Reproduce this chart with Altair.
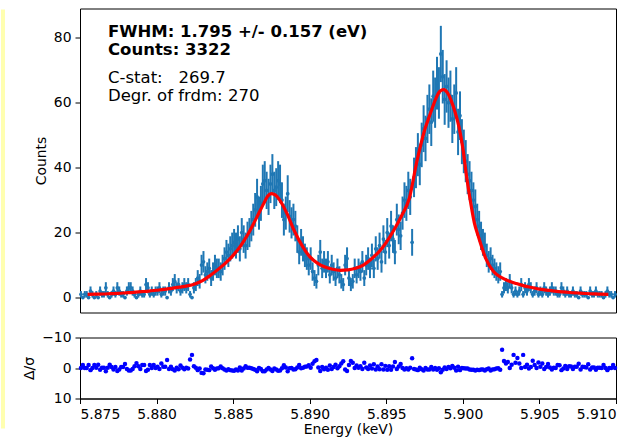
import altair as alt
import numpy as np
import pandas as pd

# ---------------- data ----------------
BIN_START_KEV = 5.875
BIN_WIDTH_KEV = 0.000125  # 0.125 eV bins

# counts per bin (8 bins per eV)
COUNTS = [
    1, 0, 1, 1, 0, 2, 1, 0,
    1, 0, 2, 1, 1, 3, 1, 0,
    1, 2, 1, 3, 2, 1, 1, 0,
    2, 3, 3, 2, 1, 0, 1, 2,
    1, 1, 4, 3, 1, 2, 1, 2,
    2, 3, 1, 2, 2, 0, 3, 2,
    4, 5, 3, 4, 2, 3, 4, 3,
    4, 1, 0, 3, 4, 6, 5, 10,
    11, 7, 8, 9, 6, 8, 10, 9,
    9, 8, 10, 12, 14, 13, 15, 16,
    17, 16, 18, 15, 20, 18, 16, 19,
    20, 22, 24, 27, 31, 26, 29, 35,
    36, 33, 31, 35, 38, 33, 34, 36,
    35, 30, 24, 26, 32, 25, 23, 24,
    22, 18, 14, 17, 15, 13, 12, 10,
    12, 8, 6, 5, 10, 14, 9, 11,
    9, 11, 7, 10, 8, 6, 9, 7,
    5, 4, 10, 12, 6, 4, 5, 9,
    7, 9, 8, 11, 6, 10, 12, 9,
    13, 9, 15, 12, 16, 11, 18, 14,
    20, 16, 22, 18, 14, 24, 21, 19,
    26, 30, 29, 33, 31, 17, 37, 40,
    44, 41, 47, 52, 49, 55, 58, 54,
    62, 60, 66, 63, 75, 68, 61, 65,
    60, 62, 55, 58, 63, 51, 56, 48,
    45, 42, 38, 36, 33, 30, 28, 24,
    22, 19, 17, 16, 13, 11, 12, 10,
    9, 8, 7, 8, 1, 3, 4, 3,
    5, 3, 1, 2, 1, 2, 4, 1,
    3, 2, 4, 3, 1, 2, 3, 1,
    2, 1, 3, 2, 1, 2, 3, 2,
    2, 1, 1, 3, 2, 1, 2, 1,
    1, 2, 1, 1, 0, 2, 1, 1,
    1, 0, 2, 1, 1, 2, 1, 1,
    1, 0, 1, 2, 1, 1, 0, 1,
]

# normalised residuals Delta/sigma per bin
RESIDUALS = [
    0, -1, 0, 0, -1, 0.7, 0, -1,
    -0.1, -1.1, 0.6, -0.1, -0.1, 1.1, -0.1, -1.1,
    -0.3, 0.5, -0.3, 1.0, 0.5, -0.3, -0.3, -1.3,
    0.3, 0.8, 0.8, 0.3, -0.6, -1.6, -0.6, 0.3,
    -1.0, -1.0, 1.0, 0.6, -1.0, 0, -1.0, 0,
    -0.4, 0.3, -1.5, -0.4, -0.4, -2.6, 0.3, -0.4,
    0.4, 0.8, -0.1, 0.4, -0.8, -0.1, 0.4, -0.1,
    0.2, -2.8, -4.3, -0.6, -0.1, 0.7, 0.2, 1.6,
    1.7, 0.5, 0.6, 0.7, -0.5, 0.1, 0.6, 0.2,
    0.1, -0.5, 0.1, 0.5, 0.8, 0.4, 0.7, 0.8,
    0.9, 0.5, 0.8, -0.2, 0.8, 0.2, -0.6, -0.1,
    -0.1, 0.1, 0.3, 0.6, 1.1, 0, 0.3, 1.1,
    1.1, 0.5, 0, 0.5, 1.0, 0.2, 0.5, 0.9,
    0.8, 0.1, -0.9, -0.2, 1.1, 0.1, 0, 0.5,
    0.4, -0.2, -1.0, 0.1, -0.1, -0.4, -0.5, -0.9,
    -0.1, -1.4, -2.2, -2.6, -0.2, 1.0, -0.3, 0.4,
    -0.1, 0.6, -0.8, 0.3, -0.3, -1.1, 0.1, -0.6,
    -1.5, -2.2, 0.5, 1.0, -1.0, -2.3, -1.7, 0,
    -0.8, -0.1, -0.6, 0.3, -1.7, -0.2, 0.3, -0.8,
    0.2, -1.2, 0.5, -0.5, 0.4, -1.2, 0.5, -0.7,
    0.6, -0.6, 0.6, -0.5, -2.0, 0.3, -0.5, -1.3,
    0, 0.5, 0.1, 0.5, -0.1, -3.2, 0.3, 0.5,
    0.7, -0.1, 0.4, 0.8, 0, 0.5, 0.5, -0.3,
    0.5, 0, 0.6, 0.1, 1.4, 0.6, -0.2, 0.3,
    -0.3, 0.1, -0.7, -0.1, 0.8, -0.4, 0.7, 0,
    0.1, 0.2, 0.2, 0.5, 0.6, 0.6, 0.8, 0.6,
    0.7, 0.5, 0.5, 0.8, 0.4, 0.2, 0.8, 0.5,
    0.4, 0.2, 0.1, 0.6, -6.0, -2.3, -1.5, -2.0,
    0, -1.1, -4.3, -1.7, -3.3, -1.5, 0, -4.3,
    -0.3, -1.1, 0.2, -0.3, -2.4, -1.0, 0, -1.8,
    -0.4, -1.5, 0.3, -0.3, -1.3, -0.2, 0.5, -0.1,
    0, -1, -0.9, 0.7, 0.2, -0.7, 0.3, -0.6,
    -0.5, 0.3, -0.4, -0.4, -1.4, 0.5, -0.4, -0.3,
    -0.2, -1.2, 0.5, -0.2, -0.2, 0.6, -0.1, -0.1,
    0, -1, 0, 0.7, 0, 0, -1, 0,
]

# fitted model curve (energy offset from 5.875 keV in eV, counts)
FIT_E_EV = [
    0.5, 1, 1.5, 2, 2.5, 3, 3.5, 4, 4.5, 5, 5.5, 6, 6.5, 7, 7.5, 8, 8.5, 9,
    9.5, 10, 10.5, 11, 11.5, 12, 12.25, 12.5, 12.75, 13, 13.5, 14, 14.5, 15,
    15.5, 16, 16.5, 17, 17.5, 18, 18.5, 19, 19.5, 20, 20.5, 21, 21.5, 22,
    22.25, 22.5, 22.75, 23, 23.25, 23.5, 23.75, 24, 24.25, 24.5, 24.75, 25,
    25.25, 25.5, 25.75, 26, 26.5, 27, 27.5, 28, 28.5, 29, 29.5, 30, 30.5, 31,
    31.5, 32, 32.5, 33, 33.5, 34, 34.5,
]
FIT_COUNTS = [
    1.0, 1.05, 1.1, 1.2, 1.3, 1.45, 1.6, 1.8, 2.0, 2.25, 2.5, 2.85, 3.2, 3.6,
    4.2, 5.2, 6.8, 8.6, 10.6, 13.0, 16.0, 19.8, 24.3, 29.0, 31.2, 32.0, 31.6,
    30.3, 26.0, 20.5, 16.0, 12.6, 10.6, 9.4, 8.7, 8.4, 8.5, 9.0, 10.0, 11.8,
    14.0, 17.0, 20.8, 25.2, 30.5, 42.0, 47.0, 51.5, 55.0, 58.3, 61.4, 63.5,
    64.0, 63.0, 60.5, 57.0, 52.5, 46.0, 37.0, 29.5, 23.0, 19.0, 12.0, 8.0,
    6.2, 5.1, 4.3, 3.6, 3.1, 2.6, 2.3, 2.0, 1.75, 1.55, 1.4, 1.25, 1.15,
    1.05, 1.0,
]

X_TICKS = [5.875, 5.880, 5.885, 5.890, 5.895, 5.900, 5.905, 5.910]
Y_TICKS = [0, 20, 40, 60, 80]
R_TICKS = [-10, 0, 10]

LINE_FWHM = "FWHM: 1.795 +/- 0.157 (eV)"
LINE_COUNTS = "Counts: 3322"
LINE_CSTAT = "C-stat:\u00a0\u00a0 269.7"
LINE_DOF = "Degr. of frdm: 270"

# ---------------- tables ----------------
bins = pd.DataFrame({
    "energy": BIN_START_KEV + (np.arange(len(COUNTS)) + 0.5) * BIN_WIDTH_KEV,
    "counts": COUNTS,
    "resid": RESIDUALS,
})
fit = pd.DataFrame({
    "energy": BIN_START_KEV + np.array(FIT_E_EV) / 1000.0,
    "model": FIT_COUNTS,
})

FONT = "DejaVu Sans"
BLUE = "#1f77b4"

xscale = alt.Scale(domain=[5.875, 5.910], nice=False, zero=False)
yscale = alt.Scale(domain=[-4.6, 89.0], nice=False, zero=False)
yaxis = alt.Axis(values=Y_TICKS, title="Counts")

err = alt.Chart(bins).transform_calculate(
    lo="datum.counts - sqrt(datum.counts)",
    hi="datum.counts + sqrt(datum.counts)",
).mark_rule(color=BLUE, strokeWidth=2).encode(
    x=alt.X("energy:Q", scale=xscale, axis=None),
    y=alt.Y("lo:Q", scale=yscale, axis=yaxis, title="Counts"),
    y2="hi:Q",
)
pts = alt.Chart(bins).mark_circle(color=BLUE, size=14, opacity=1).encode(
    x=alt.X("energy:Q", scale=xscale, axis=None),
    y=alt.Y("counts:Q", scale=yscale, axis=yaxis, title="Counts"),
)
model = alt.Chart(fit).mark_line(color="#ff0000", strokeWidth=3.2, interpolate="monotone").encode(
    x=alt.X("energy:Q", scale=xscale, axis=None),
    y=alt.Y("model:Q", scale=yscale, axis=yaxis, title="Counts"),
)


def label(text, px, py, bold):
    return alt.Chart(pd.DataFrame({"t": [text]})).mark_text(
        align="left", baseline="alphabetic", font=FONT, fontSize=16.5,
        fontWeight="bold" if bold else "normal", color="black",
    ).encode(x=alt.value(px), y=alt.value(py), text="t:N")


strip = alt.Chart(pd.DataFrame({"k": [0]})).mark_rect(color="#ffffb0").encode(
    x=alt.value(-79), x2=alt.value(-75), y=alt.value(1), y2=alt.value(420)
)

top = alt.layer(
    strip, err, pts, model,
    label(LINE_FWHM, 28, 28.5, True),
    label(LINE_COUNTS, 28, 46.5, True),
    label(LINE_CSTAT, 28, 74.5, False),
    label(LINE_DOF, 28, 92.5, False),
).properties(width=536, height=304)

resid = alt.Chart(bins).mark_circle(color="#0000ff", size=20, opacity=1).encode(
    x=alt.X("energy:Q", scale=xscale,
            axis=alt.Axis(values=X_TICKS, format=".3f", title="Energy (keV)", titlePadding=1)),
    y=alt.Y("resid:Q", scale=alt.Scale(domain=[-10, 10], reverse=True, nice=False, zero=False),
            axis=alt.Axis(values=R_TICKS, title="Δ/σ")),
).properties(width=536, height=61)

chart = alt.vconcat(top, resid, spacing=25, bounds="flush").properties(
    padding={"left": 0, "top": 7.5, "right": 2, "bottom": 0},
    background="white",
).configure_view(
    stroke="black", strokeWidth=1
).configure_axis(
    domainColor="black", domainWidth=1, tickColor="black", tickWidth=1, tickSize=5,
    labelFont=FONT, labelFontSize=13.9, labelColor="black", labelPadding=4,
    titleFont=FONT, titleFontSize=13.9, titleFontWeight="normal", titleColor="black",
    titlePadding=5, grid=False,
)

chart.save("out.html", embed_options={"renderer": "svg", "actions": False})
